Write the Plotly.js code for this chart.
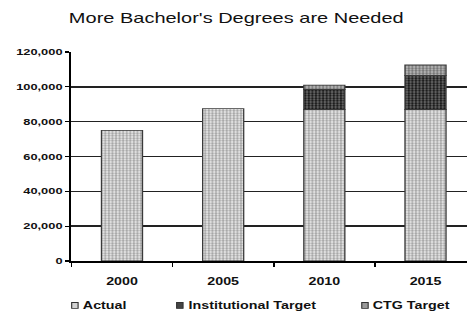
<!DOCTYPE html>
<html>
<head>
<meta charset="utf-8">
<script src="https://cdn.plot.ly/plotly-3.0.1.min.js"></script>
<style>
  html, body { margin: 0; padding: 0; overflow: hidden; background: #fff; }
  /* the chart is laid out narrow and widened horizontally */
  #chart { width: 327px; height: 320px; transform: scaleX(1.4281); transform-origin: 0 0; }
</style>
</head>
<body>
<div id="chart"></div>
<script>
// Degrees by year
const years = ['2000', '2005', '2010', '2015'];
const actual = [75000, 87500, 87000, 87000];
const institutionalTarget = [null, null, 11500, 19500];
const ctgTarget = [null, null, 2500, 6000];
const seriesNames = ['Actual', 'Institutional Target', 'CTG Target'];

const FONT = '"Liberation Sans", Arial, sans-serif';

// fill styles per series: background, dot colour, legend swatch
const fills = [
  { bg: '#ececec', fg: '#a0a0a0', swatch: '#d4d4d4' },
  { bg: '#6e6e6e', fg: '#141414', swatch: '#444444' },
  { bg: '#bdbdbd', fg: '#707070', swatch: '#9a9a9a' }
];

const seriesValues = [actual, institutionalTarget, ctgTarget];

const traces = seriesValues.map((vals, i) => ({
  type: 'bar',
  name: seriesNames[i],
  x: years,
  y: vals,
  marker: {
    color: fills[i].bg,
    pattern: { shape: '.', fgcolor: fills[i].fg, bgcolor: fills[i].bg, size: 2.5, solidity: 0.5 },
    line: { color: '#3a3a3a', width: 0.9 }
  },
  showlegend: false,
  hoverinfo: 'skip'
}));

// legend drawn below the axis: small swatch then label
const legendLeft = [0.0007, 0.266, 0.734];
const swatchW = 0.0162;
const shapes = [];
const annotations = [];
seriesNames.forEach((name, i) => {
  shapes.push({
    type: 'rect', xref: 'paper', yref: 'paper',
    x0: legendLeft[i], x1: legendLeft[i] + swatchW, y0: -0.227, y1: -0.1986,
    fillcolor: fills[i].swatch, line: { color: '#333', width: 0.8 }
  });
  annotations.push({
    xref: 'paper', yref: 'paper', x: legendLeft[i] + swatchW + 0.006, y: -0.213,
    xanchor: 'left', yanchor: 'middle', showarrow: false, text: name,
    font: { family: FONT, size: 10, color: '#111', weight: 'bold' }
  });
});

const layout = {
  width: 327,
  height: 320,
  margin: { l: 50, r: 0, t: 52, b: 59 },
  paper_bgcolor: '#fff',
  plot_bgcolor: '#fff',
  barmode: 'stack',
  bargap: 0.594,
  title: {
    text: "More Bachelor's Degrees are Needed",
    xref: 'container', x: 0.506, xanchor: 'center',
    yref: 'container', y: 0.9447, yanchor: 'middle',
    font: { family: FONT, size: 14, color: '#111' }
  },
  xaxis: {
    type: 'category',
    range: [-0.5, 3.41],
    tickson: 'boundaries',
    ticks: 'outside', ticklen: 4, tickwidth: 1.2, tickcolor: '#000',
    showline: true, linecolor: '#000', linewidth: 1.5,
    showgrid: false, zeroline: false,
    ticklabelstandoff: 11,
    tickfont: { family: FONT, size: 10, color: '#111', weight: 'bold' }
  },
  yaxis: {
    range: [0, 120000],
    dtick: 20000,
    tickformat: ',d',
    ticks: 'outside', ticklen: 3, tickwidth: 1.2, tickcolor: '#000',
    showline: true, linecolor: '#000', linewidth: 1.4,
    showgrid: true, gridcolor: '#222', gridwidth: 1.5,
    zeroline: false,
    ticklabelstandoff: 0,
    tickfont: { family: FONT, size: 9, color: '#111', weight: 'bold' }
  },
  shapes: shapes,
  annotations: annotations
};

Plotly.newPlot('chart', traces, layout, { displayModeBar: false, staticPlot: true });
</script>
</body>
</html>
